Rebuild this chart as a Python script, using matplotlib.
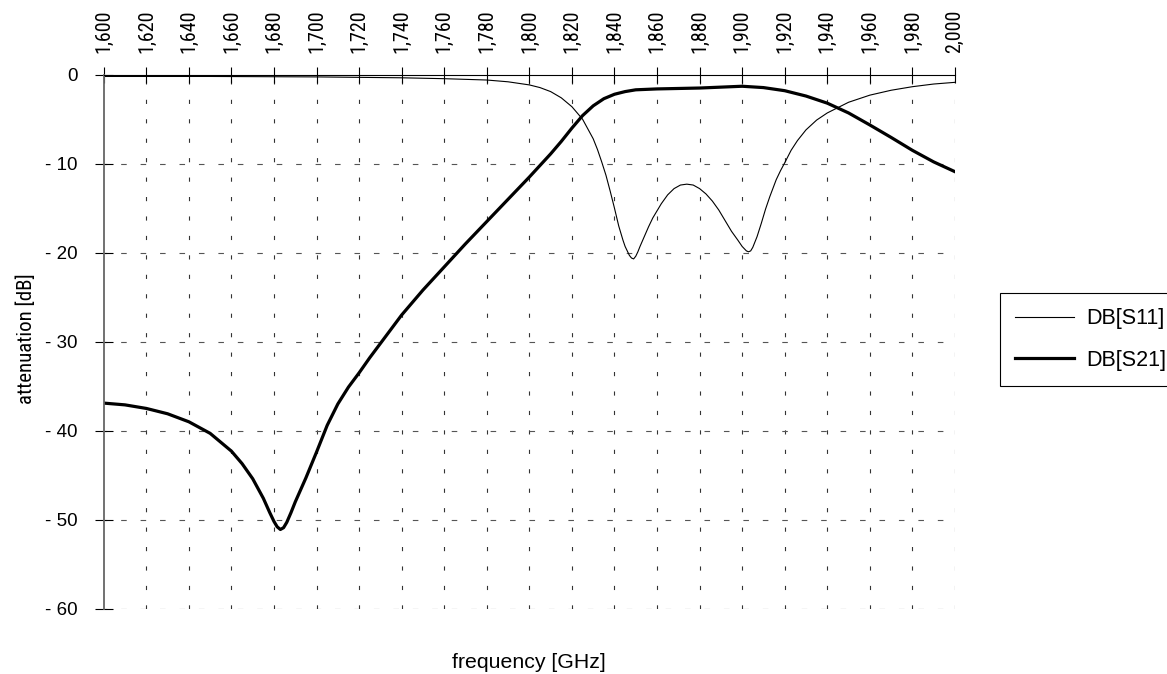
import matplotlib
matplotlib.use('Agg')
import matplotlib.pyplot as plt

# frequency axis (MHz) and tick labels
x_ticks = [1600, 1620, 1640, 1660, 1680, 1700, 1720, 1740, 1760, 1780, 1800,
           1820, 1840, 1860, 1880, 1900, 1920, 1940, 1960, 1980, 2000]
x_labels = ['1,600', '1,620', '1,640', '1,660', '1,680', '1,700', '1,720',
            '1,740', '1,760', '1,780', '1,800', '1,820', '1,840', '1,860',
            '1,880', '1,900', '1,920', '1,940', '1,960', '1,980', '2,000']
y_ticks = [0, -10, -20, -30, -40, -50, -60]
y_labels = ['0', '- 10', '- 20', '- 30', '- 40', '- 50', '- 60']

# DB[S21]
f21 = [1600, 1610, 1620, 1630, 1640, 1650, 1660, 1665, 1670, 1675, 1678,
       1680, 1681.5, 1683, 1684.5, 1686, 1688, 1690, 1695, 1700, 1705, 1710,
       1715, 1720, 1725, 1730, 1740, 1750, 1760, 1770, 1780, 1790, 1800,
       1805, 1810, 1815, 1820, 1825, 1830, 1835, 1840, 1845, 1850, 1860,
       1870, 1880, 1890, 1900, 1910, 1920, 1930, 1940, 1950, 1960, 1970,
       1980, 1990, 2000]
s21 = [-36.9, -37.1, -37.5, -38.1, -39.0, -40.3, -42.3, -43.7, -45.4, -47.6,
       -49.2, -50.2, -50.8, -51.1, -50.9, -50.3, -49.2, -48.0, -45.3, -42.4,
       -39.4, -37.0, -35.1, -33.5, -31.8, -30.2, -27.0, -24.2, -21.6, -19.0,
       -16.5, -14.0, -11.5, -10.2, -8.9, -7.5, -6.0, -4.6, -3.5, -2.7, -2.2,
       -1.9, -1.7, -1.6, -1.55, -1.5, -1.4, -1.3, -1.45, -1.8, -2.4, -3.2,
       -4.3, -5.65, -7.05, -8.5, -9.8, -10.9]

# DB[S11]
f11 = [1600, 1650, 1700, 1740, 1760, 1780, 1790, 1800, 1805, 1810, 1815,
       1820, 1825, 1830, 1832, 1834, 1836, 1838, 1840, 1842, 1844, 1845,
       1846, 1847, 1848, 1849, 1850, 1851, 1852, 1854, 1856, 1858, 1860,
       1862, 1865, 1868, 1871, 1874, 1877, 1880, 1883, 1886, 1889, 1892,
       1895, 1898, 1900, 1902, 1903, 1904, 1905, 1907, 1909, 1911, 1913,
       1916, 1918, 1920, 1923, 1926, 1930, 1935, 1940, 1950, 1960, 1970,
       1980, 1990, 2000]
s11 = [-0.2, -0.2, -0.25, -0.35, -0.45, -0.6, -0.8, -1.15, -1.45, -1.9,
       -2.6, -3.6, -5.0, -7.2, -8.4, -9.8, -11.3, -13.1, -15.0, -17.0,
       -18.6, -19.3, -19.8, -20.3, -20.6, -20.7, -20.4, -19.9, -19.3, -18.2,
       -17.1, -16.1, -15.3, -14.5, -13.5, -12.8, -12.4, -12.3, -12.4, -12.8,
       -13.4, -14.2, -15.2, -16.4, -17.6, -18.6, -19.3, -19.8, -19.9, -19.8,
       -19.4, -18.2, -16.7, -15.1, -13.7, -11.8, -10.8, -9.9, -8.5, -7.4,
       -6.2, -5.1, -4.3, -3.1, -2.3, -1.75, -1.35, -1.05, -0.86]

plt.rcParams['lines.scale_dashes'] = False
narrow = ['Roboto Condensed', 'DejaVu Sans']
sans = ['Liberation Sans', 'DejaVu Sans']

fig = plt.figure(figsize=(11.67, 6.74), dpi=100)
ax = fig.add_axes([0.0889, 0.0969, 0.7294, 0.7923])

ax.plot(f11, s11, color='black', lw=0.8, label='DB[S11]')
ax.plot(f21, s21, color='black', lw=2.3, label='DB[S21]')

ax.set_xlim(1600, 2000)
ax.set_ylim(-60, 0)

# dashed grid
for x in x_ticks[1:]:
    ax.axvline(x, color='#333333', lw=0.8, ls=(0, (3, 11)), zorder=0)
for y in y_ticks[1:]:
    ax.axhline(y, color='#555555', lw=0.8, ls=(2, (4, 10)), zorder=0)

ax.xaxis.tick_top()
ax.set_xticks(x_ticks)
ax.set_xticklabels(x_labels, rotation=90, fontsize=14.5, family=narrow)
ax.set_yticks(y_ticks)
ax.set_yticklabels(y_labels, fontsize=13.5, family=sans)
ax.tick_params(axis='x', direction='inout', length=11, width=0.8, pad=10)
ax.tick_params(axis='y', direction='inout', length=13, width=0.8, pad=12.5)

ax.spines['right'].set_visible(False)
ax.spines['bottom'].set_visible(False)
ax.spines['top'].set_linewidth(0.8)
ax.spines['left'].set_color('#666666')
ax.spines['left'].set_linewidth(1.3)

fig.text(26 / 1167, 1 - 339 / 674, 'attenuation [dB]', rotation=90,
         ha='center', va='center', fontsize=15, family=narrow)
fig.text(529 / 1167, 1 - 663 / 674, 'frequency [GHz]',
         ha='center', va='center', fontsize=15.3, family=sans)

leg = fig.legend(loc='upper left', bbox_to_anchor=(1000 / 1167, 1 - 293 / 674),
                 bbox_transform=fig.transFigure, fancybox=False,
                 edgecolor='black', framealpha=1, borderaxespad=0,
                 borderpad=0.71, handlelength=2.74, handletextpad=0.56,
                 labelspacing=0.96, prop={'family': sans, 'size': 15.5})
leg.get_frame().set_linewidth(0.8)

fig.savefig('out.png', dpi=100)
